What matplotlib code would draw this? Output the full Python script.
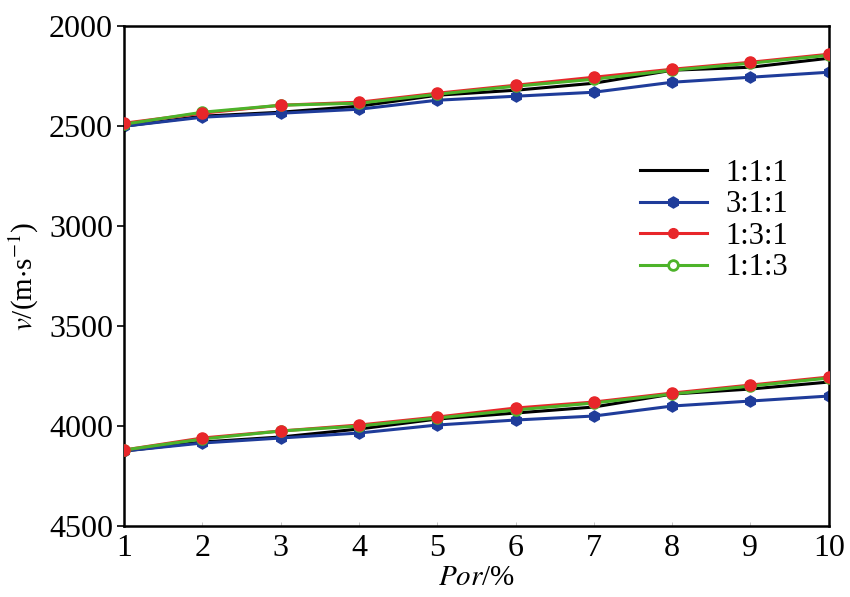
import matplotlib
matplotlib.use("Agg")
import matplotlib.pyplot as plt

por = [1, 2, 3, 4, 5, 6, 7, 8, 9, 10]
labels = ["1:1:1", "3:1:1", "1:3:1", "1:1:3"]

# upper group (shear-wave velocity)
vs_111 = [2500, 2450, 2430, 2400, 2345, 2320, 2285, 2220, 2205, 2160]
vs_311 = [2500, 2455, 2435, 2415, 2370, 2350, 2330, 2280, 2255, 2230]
vs_131 = [2485, 2435, 2395, 2380, 2335, 2295, 2255, 2215, 2180, 2140]
vs_113 = [2490, 2430, 2395, 2385, 2340, 2300, 2265, 2220, 2185, 2145]

# lower group (compressional-wave velocity)
vp_111 = [4125, 4080, 4055, 4015, 3965, 3935, 3905, 3840, 3815, 3780]
vp_311 = [4125, 4085, 4060, 4035, 3995, 3970, 3950, 3900, 3875, 3850]
vp_131 = [4120, 4060, 4025, 3995, 3955, 3910, 3880, 3835, 3795, 3755]
vp_113 = [4120, 4065, 4025, 4000, 3960, 3920, 3885, 3840, 3800, 3760]

yticks = [2000, 2500, 3000, 3500, 4000, 4500]

plt.rcParams['font.family'] = ['Liberation Serif', 'DejaVu Serif']
plt.rcParams['mathtext.fontset'] = 'stix'

fig = plt.figure(figsize=(8.5, 5.97), dpi=100)
ax = fig.add_axes([0.146, 0.119, 0.829, 0.837])

c_black = "#000000"
c_blue = "#1f3c9a"
c_red = "#e8262a"
c_green = "#4db32a"
lw = 2.2
ms = 7

for s111, s311, s131, s113, first in [(vs_111, vs_311, vs_131, vs_113, True),
                                      (vp_111, vp_311, vp_131, vp_113, False)]:
    ax.plot(por, s111, color=c_black, lw=lw, label=labels[0] if first else None, zorder=2)
    ax.plot(por, s311, color=c_blue, lw=lw, marker="h", ms=ms + 1, mec=c_blue, mfc=c_blue,
            label=labels[1] if first else None, zorder=2)
    ax.plot(por, s131, color=c_red, lw=lw, marker="o", ms=ms, mec=c_red, mfc=c_red,
            label=labels[2] if first else None, zorder=3)
    ax.plot(por, s113, color=c_green, lw=lw, marker="o", ms=ms, mec=c_green, mfc="white",
            mew=2, label=labels[3] if first else None, zorder=4)
    ax.plot(por, s131, ls="none", marker="o", ms=ms + 1, mec=c_red, mfc=c_red, zorder=5)

ax.set_xlim(1, 10)
ax.set_ylim(4500, 2000)
ax.set_xticks(por)
ax.set_yticks(yticks)
ax.tick_params(axis='y', direction='out', length=5, width=1.2, labelsize=23, pad=3)
ax.tick_params(axis='x', direction='in', length=3, width=0.6, labelsize=23, pad=6, color="#bbbbbb")
for sp in ax.spines.values():
    sp.set_linewidth(1.8)

ax.set_xlabel(r"$\it{Por}$/%", fontsize=21, labelpad=1)
ax.set_ylabel(r"$\it{v}$/(m$\cdot$s$^{\mathrm{-1}}$)", fontsize=21, labelpad=6)

leg = ax.legend(loc="upper left", bbox_to_anchor=(0.71, 0.765), frameon=False, fontsize=22,
                handlelength=2.2, handletextpad=0.6, labelspacing=0.08, borderpad=0)

fig.savefig("out.png", dpi=100)
